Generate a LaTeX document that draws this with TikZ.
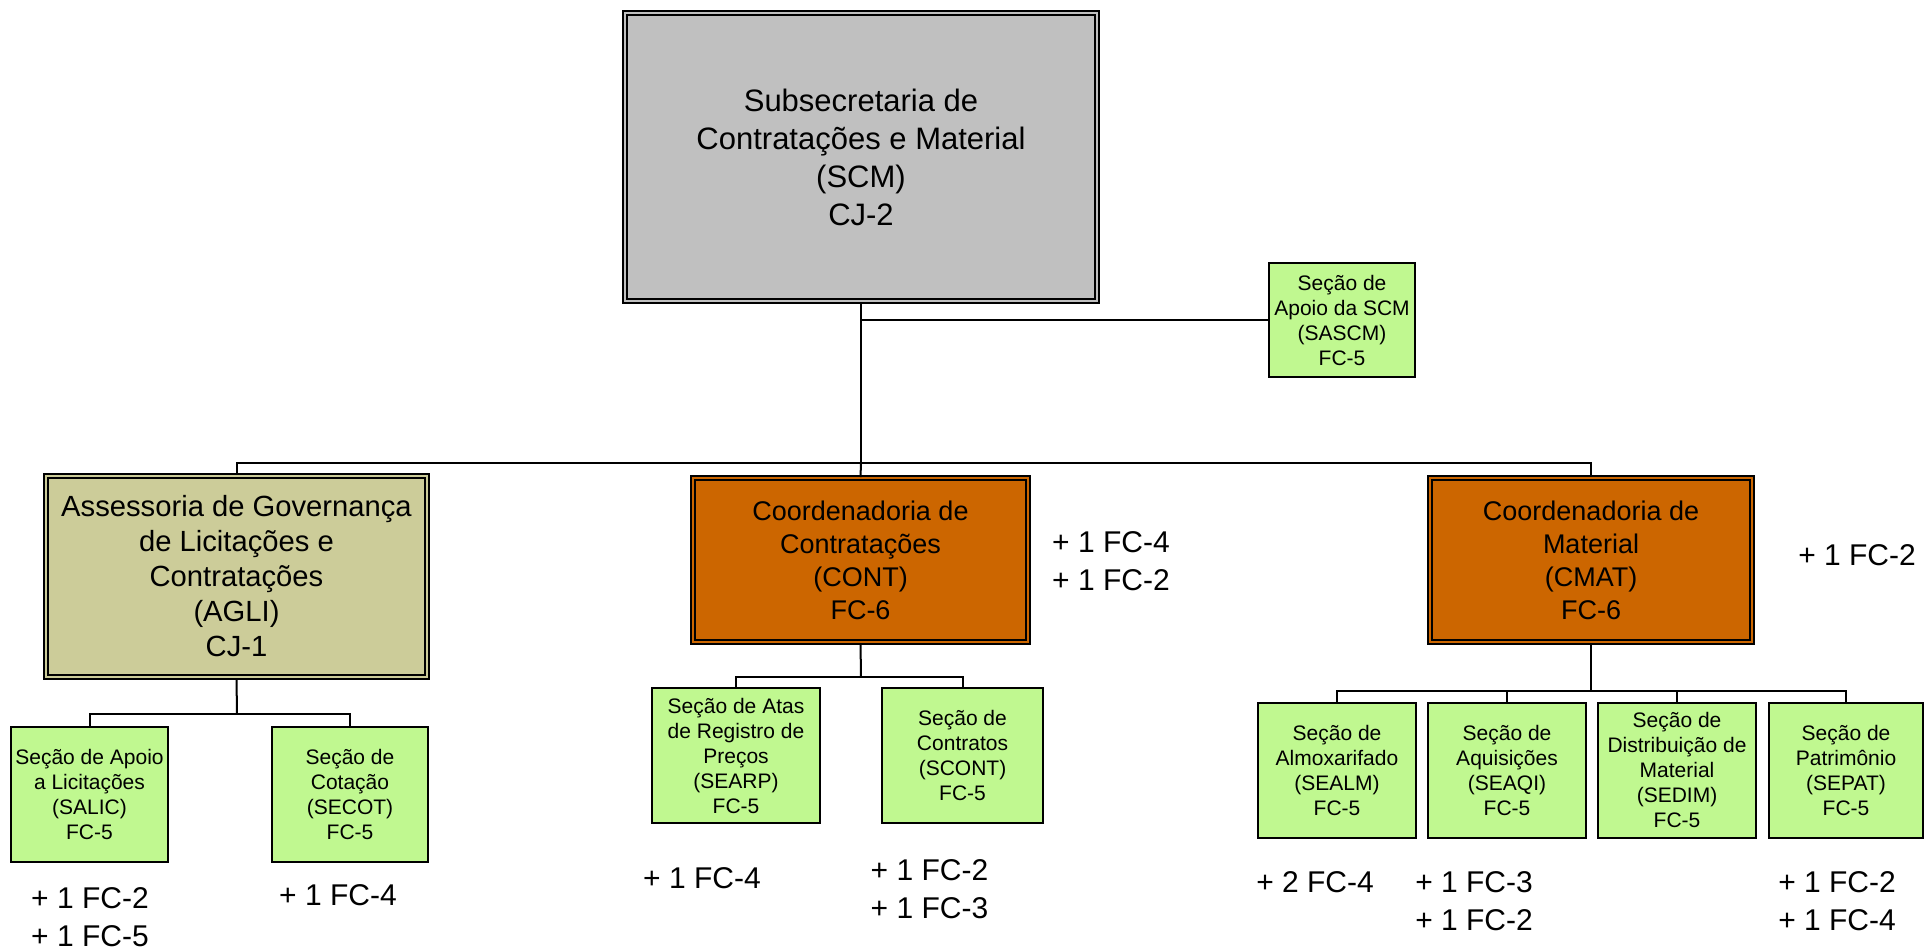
\documentclass[tikz,border=0pt]{standalone}
\usepackage{fontspec}
\setmainfont{Liberation Sans}
\usetikzlibrary{positioning}

\definecolor{scmgray}{RGB}{192,192,192}
\definecolor{agliolive}{RGB}{204,204,153}
\definecolor{coordorange}{RGB}{204,102,0}
\definecolor{secgreen}{RGB}{192,248,144}

\tikzset{
	unit/.style={draw, rectangle, align=center, inner sep=0pt},
	chief/.style={unit, line width=1pt, double distance=1.4pt},
	secao/.style={unit, fill=secgreen, line width=1pt, minimum height=67.5pt,
		font=\fontsize{10.5}{12.5}\selectfont},
	secaolow/.style={secao, execute at begin node={\rule{0pt}{15pt}}},
	extra/.style={align=center, inner sep=0pt, font=\fontsize{15}{19}\selectfont},
	link/.style={line width=1pt},
}

\begin{document}
\begin{tikzpicture}[x=0.5pt, y=-0.5pt]
	\useasboundingbox (0,0) rectangle (1926,949);

	% chefias
	\node[chief, fill=scmgray, double=scmgray, minimum width=236pt, minimum height=144pt,
		font=\fontsize{15.5}{19}\selectfont] (scm) at (861,157)
		{Subsecretaria de\\Contratações e Material\\(SCM)\\CJ-2};
	\node[chief, fill=agliolive, double=agliolive, minimum width=190.5pt, minimum height=100.5pt,
		font=\fontsize{14.6}{17.5}\selectfont] (agli) at (236.5,576.5)
		{Assessoria de Governança\\de Licitações e\\Contratações\\(AGLI)\\CJ-1};
	\node[chief, fill=coordorange, double=coordorange, minimum width=167.5pt, minimum height=82pt,
		font=\fontsize{13.5}{16.5}\selectfont] (cont) at (860.5,560)
		{Coordenadoria de\\Contratações\\(CONT)\\FC-6};
	\node[chief, fill=coordorange, double=coordorange, minimum width=161pt, minimum height=82pt,
		font=\fontsize{13.5}{16.5}\selectfont] (cmat) at (1591,560)
		{Coordenadoria de\\Material\\(CMAT)\\FC-6};

	% secoes
	\node[secao, minimum width=73pt, minimum height=57pt] (sascm) at (1342,320)
		{Seção de\\Apoio da SCM\\(SASCM)\\FC-5};
	\node[secaolow, minimum width=78.5pt] (salic) at (89.5,794.5) {Seção de Apoio\\a Licitações\\(SALIC)\\FC-5};
	\node[secaolow, minimum width=78pt] (secot) at (350,794.5) {Seção de\\Cotação\\(SECOT)\\FC-5};
	\node[secaolow, minimum width=84pt] (searp) at (736,755.5) {Seção de Atas\\de Registro de\\Preços\\(SEARP)\\FC-5};
	\node[secaolow, minimum width=80.5pt] (scont) at (962.5,755.5) {Seção de\\Contratos\\(SCONT)\\FC-5};
	\node[secaolow, minimum width=79pt] (sealm) at (1337,770) {Seção de\\Almoxarifado\\(SEALM)\\FC-5};
	\node[secaolow, minimum width=79pt] (seaqi) at (1507,770) {Seção de\\Aquisições\\(SEAQI)\\FC-5};
	\node[secaolow, minimum width=79pt] (sedim) at (1677,770) {Seção de\\Distribuição de\\Material\\(SEDIM)\\FC-5};
	\node[secaolow, minimum width=77pt] (sepat) at (1846,770) {Seção de\\Patrimônio\\(SEPAT)\\FC-5};

	% funcoes extras
	\node[extra] (xcont) at (1111,561) {+ 1 FC-4\\+ 1 FC-2};
	\node[extra] (xcmat) at (1857,555) {+ 1 FC-2};
	\node[extra] (xsalic) at (90,917) {+ 1 FC-2\\+ 1 FC-5};
	\node[extra] (xsecot) at (338,895) {+ 1 FC-4};
	\node[extra] (xsearp) at (702,878) {+ 1 FC-4};
	\node[extra] (xscont) at (929.5,889) {+ 1 FC-2\\+ 1 FC-3};
	\node[extra] (xsealm) at (1315,882) {+ 2 FC-4};
	\node[extra] (xseaqi) at (1474,901) {+ 1 FC-3\\+ 1 FC-2};
	\node[extra] (xsepat) at (1837,901) {+ 1 FC-2\\+ 1 FC-4};

	% ligacoes
	\coordinate (bus) at (861,463);
	\coordinate (aglifork) at (237,714);
	\coordinate (contfork) at (861,677);
	\coordinate (cmatfork) at (1591,691);

	\draw[link] (scm.south) -- (bus);
	\draw[link] (scm.south |- sascm.west) -- (sascm.west);
	\draw[link] (agli.north) |- (bus) -| (cmat.north);
	\draw[link] (cont.north) -- (bus);

	\draw[link] (agli.south) -- (aglifork);
	\draw[link] (salic.north) |- (aglifork) -| (secot.north);

	\draw[link] (cont.south) -- (contfork);
	\draw[link] (searp.north) |- (contfork) -| (scont.north);

	\draw[link] (cmat.south) -- (cmatfork);
	\draw[link] (sealm.north) |- (cmatfork) -| (sepat.north);
	\draw[link] (seaqi.north) -- (seaqi.north |- cmatfork);
	\draw[link] (sedim.north) -- (sedim.north |- cmatfork);
\end{tikzpicture}
\end{document}
